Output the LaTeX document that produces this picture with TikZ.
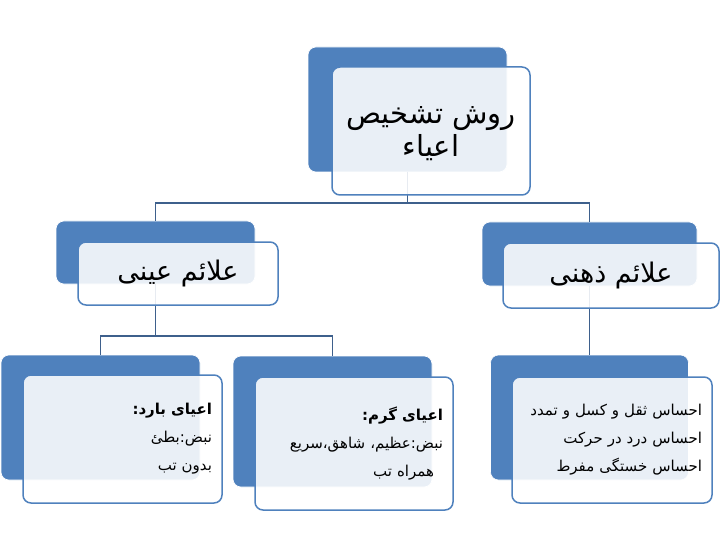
\documentclass[tikz,border=0pt]{standalone}
\usepackage{fontspec}
\usetikzlibrary{positioning}
\newfontfamily\arabicfont[Script=Arabic]{DejaVu Sans}
\TeXXeTstate=1
\definecolor{boxblue}{RGB}{79,129,189}
\definecolor{linkblue}{RGB}{62,96,140}

\begin{document}
\begin{tikzpicture}[x=1pt,y=-1pt,
  back/.style={fill=boxblue,draw=white,line width=0.6pt,rounded corners=8pt,
               inner sep=0pt,outer sep=0pt},
  front/.style={fill=white,fill opacity=0.88,text opacity=1,draw=boxblue,
                line width=1.5pt,rounded corners=8pt,inner sep=0pt,outer sep=0pt},
  link/.style={draw=linkblue,line width=1.3pt}]
\useasboundingbox (0,0) rectangle (720,540);

% back boxes
\node[back,minimum width=199pt,minimum height=125pt] (raweshback) at (407.5,109.5) {};
\node[back,minimum width=199pt,minimum height=63pt]  (eyniback)   at (155.5,252.5) {};
\node[back,minimum width=215pt,minimum height=64pt]  (zehniback)  at (589.5,254)   {};
\node[back,minimum width=199pt,minimum height=125pt] (baridback)  at (100.5,417.5) {};
\node[back,minimum width=199pt,minimum height=131pt] (garmback)   at (332.5,421.5) {};
\node[back,minimum width=198pt,minimum height=125pt] (ehsasback)  at (589.5,417.5) {};

% connectors
\draw[link] (raweshback.south) -- ++(0,31) -| (eyniback.north);
\draw[link] (raweshback.south) -- ++(0,31) -| (zehniback.north);
\draw[link] (eyniback.south) -- ++(0,52) -| (baridback.north);
\draw[link] (eyniback.south) -- ++(0,52) -| (garmback.north);
\draw[link] (zehniback.south) -- (ehsasback.north);

% front boxes
\node[front,minimum width=198pt,minimum height=128pt] (rawesh) at (431,131) {};
\node[align=center,font=\arabicfont\fontsize{29}{33}\selectfont] (raweshtext) at (431,134)
      {\beginR روش تشخیص\endR\\ \beginR اعیاء\endR};
\node[front,minimum width=200pt,minimum height=63pt,
      font=\arabicfont\fontsize{27}{30}\selectfont] (eyni) at (178,273.5)
      {\beginR علائم عینی\endR};
\node[front,minimum width=216pt,minimum height=65pt,
      font=\arabicfont\fontsize{27}{30}\selectfont] (zehni) at (611,275.5)
      {\beginR علائم ذهنی\endR};
\node[front,minimum width=199pt,minimum height=128pt,text width=179pt,align=right,
      font=\arabicfont\fontsize{15}{28}\selectfont] (barid) at (122.5,439)
      {\beginR\textbf{اعیای بارد:}\endR\\ \beginR نبض:بطئ\endR\\ \beginR بدون تب\endR};
\node[front,minimum width=198pt,minimum height=133pt,text width=178pt,align=right,
      font=\arabicfont\fontsize{15}{28}\selectfont] (garm) at (354,443.5)
      {\beginR\textbf{اعیای گرم:}\endR\\ \beginR نبض:عظیم، شاهق،سریع\endR\\ \beginR\hspace*{9pt}همراه تب\endR};
\node[front,minimum width=200pt,minimum height=126pt,text width=180pt,align=right,
      font=\arabicfont\fontsize{15}{28}\selectfont] (ehsas) at (612,440)
      {\beginR احساس ثقل و کسل و تمدد\endR\\ \beginR احساس درد در حرکت\endR\\ \beginR احساس خستگی مفرط\endR};

\end{tikzpicture}
\end{document}
